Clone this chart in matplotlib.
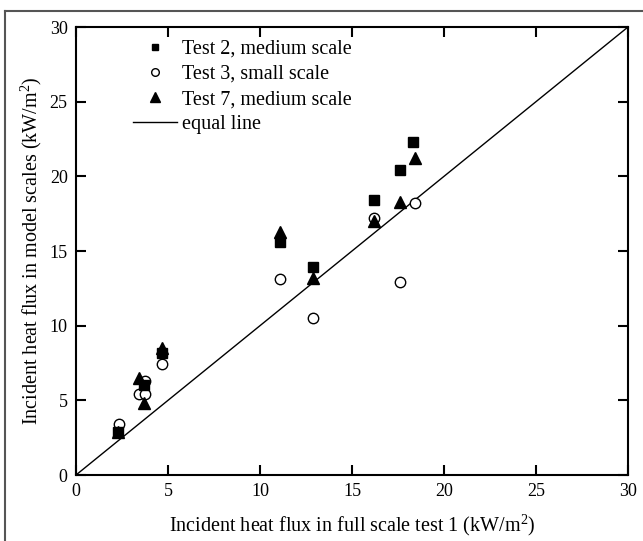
import matplotlib
matplotlib.use("Agg")
import matplotlib.pyplot as plt
from matplotlib.lines import Line2D

plt.rcParams['font.family'] = ['Liberation Serif', 'DejaVu Serif']
plt.rcParams['mathtext.fontset'] = 'custom'
plt.rcParams['mathtext.rm'] = 'Liberation Serif'
plt.rcParams['mathtext.it'] = 'Liberation Serif:italic'

# Data
t2_x = [2.3, 3.7, 4.7, 11.1, 12.9, 16.2, 17.6, 18.3]
t2_y = [2.9, 6.0, 8.15, 15.6, 13.9, 18.4, 20.4, 22.3]

t3_x = [2.35, 3.4, 3.75, 3.75, 4.7, 11.1, 12.9, 16.2, 17.6, 18.4]
t3_y = [3.4, 5.45, 5.45, 6.3, 7.45, 13.1, 10.5, 17.2, 12.9, 18.2]

t7_x = [2.3, 3.4, 3.7, 4.7, 11.1, 12.9, 16.2, 17.6, 18.4]
t7_y = [2.9, 6.5, 4.85, 8.5, 16.3, 13.2, 17.0, 18.3, 21.2]

equal_x = [0, 30]
equal_y = [0, 30]

xticks = [0, 5, 10, 15, 20, 25, 30]
yticks = [0, 5, 10, 15, 20, 25, 30]

fig = plt.figure(figsize=(6.43, 5.41), dpi=100)
ax = fig.add_axes([76/643, 1-475/541, (628-76)/643, (475-27)/541])

ax.plot(equal_x, equal_y, color='black', lw=1.0, label='equal line', zorder=1)
ax.plot(t3_x, t3_y, 'o', mfc='white', mec='black', mew=1.0, ms=7.5,
        label='Test 3, small scale', zorder=2)
ax.plot(t2_x, t2_y, 's', color='black', ms=6.5, label='Test 2, medium scale', zorder=3)
ax.plot(t7_x, t7_y, '^', color='black', ms=8, label='Test 7, medium scale', zorder=3)

ax.set_xlim(0, 30)
ax.set_ylim(0, 30)
ax.set_xticks(xticks)
ax.set_yticks(yticks)
ax.tick_params(direction='in', length=7, width=1.5, top=True, right=True,
               labelsize=13, pad=6)
for s in ax.spines.values():
    s.set_linewidth(1.5)

ax.set_xlabel('Incident heat flux in full scale test 1 (kW/m$\\mathregular{^2}$)', fontsize=14.5, labelpad=9)
ax.set_ylabel('Incident heat flux in model scales (kW/m$\\mathregular{^2}$)', fontsize=14.5, labelpad=4)

handles = [
    Line2D([], [], ls='none', marker='s', color='black', ms=5),
    Line2D([], [], ls='none', marker='o', mfc='white', mec='black', ms=5.5),
    Line2D([], [], ls='none', marker='^', color='black', ms=7),
    Line2D([], [], color='black', lw=1.0),
]
labels = ['Test 2, medium scale', 'Test 3, small scale', 'Test 7, medium scale', 'equal line']
ax.legend(handles, labels, loc='upper left', bbox_to_anchor=(0.07, 1.012), frameon=False,
          fontsize=14.5, handlelength=2.2, handletextpad=0.25, labelspacing=0.3)

# outer frame
fx = 5/643
fy = 1 - 11/541
fig.add_artist(Line2D([fx, 1], [fy, fy], transform=fig.transFigure, color='#555555', lw=1.5))
fig.add_artist(Line2D([fx, fx], [0, fy], transform=fig.transFigure, color='#555555', lw=1.5))

fig.savefig('out.png', dpi=100)
